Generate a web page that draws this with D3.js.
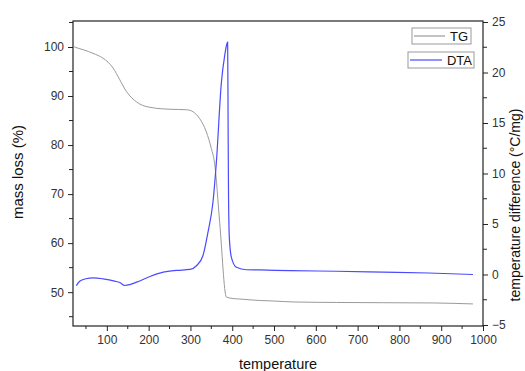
<!DOCTYPE html>
<html><head><meta charset="utf-8">
<script src="https://cdn.jsdelivr.net/npm/d3@7/dist/d3.min.js"></script>
<style>
body{margin:0;background:#fff;}
svg{display:block;font-family:"Liberation Sans",Arial,sans-serif;}
.tick text{fill:#333;font-size:12px;}
.domain,.tick line{stroke:#222;}
</style></head>
<body><svg id="c" width="525" height="371"></svg>
<script>
// TG curve: temperature (°C) vs mass loss (%)
const tgTemp = [20, 26, 45, 67, 91, 115, 131, 147, 160, 171, 185, 203, 230, 251, 291, 306, 322, 338, 350, 358, 370, 386, 402, 418, 466, 498, 546, 650, 760, 880, 976];
const tgMass = [100.1, 99.9, 99.4, 98.7, 97.7, 95.7, 93.3, 90.9, 89.6, 88.8, 88.1, 87.7, 87.4, 87.3, 87.2, 86.8, 85.4, 82.7, 79.3, 76.2, 64.2, 49.0, 48.7, 48.6, 48.3, 48.2, 48.0, 47.9, 47.85, 47.8, 47.6];
// DTA curve: temperature (°C) vs temperature difference (°C/mg)
const dtaTemp = [27, 35, 50, 67, 91, 119, 131, 143, 155, 171, 203, 235, 267, 299, 315, 330, 342, 354, 362, 374, 382, 387, 389, 390, 391, 393, 398, 410, 434, 466, 538, 650, 761, 870, 976];
const dtaVal  = [-1.1, -0.66, -0.42, -0.33, -0.43, -0.66, -0.8, -1.09, -1.0, -0.76, -0.2, 0.23, 0.4, 0.5, 0.89, 1.88, 4.2, 7.2, 11.1, 19.0, 21.7, 22.8, 23.0, 16.0, 8.5, 3.7, 1.7, 0.72, 0.47, 0.45, 0.38, 0.32, 0.23, 0.15, 0.0];
const xTicks = [100, 200, 300, 400, 500, 600, 700, 800, 900, 1000];
const leftTicks = [50, 60, 70, 80, 90, 100];
const rightTicks = [-5, 0, 5, 10, 15, 20, 25];
const seriesNames = ["TG", "DTA"];

const L = 73, R = 483, T = 21, B = 326;
const svg = d3.select("#c");
const x = d3.scaleLinear().domain([19, 1000]).range([L, R]);
const yL = d3.scaleLinear().domain([43.1, 105.3]).range([B, T]);
const yR = d3.scaleLinear().domain([-5.1, 25.1]).range([B, T]);

// frame
svg.append("rect").attr("x", L).attr("y", T).attr("width", R - L).attr("height", B - T)
  .attr("fill", "none").attr("stroke", "#222").attr("stroke-width", 1.2);

function minor(g, vals, fn) {
  g.selectAll("line.m").data(vals).enter().append("line").attr("stroke", "#222").each(fn);
}
const fmt = d3.format("d");
const gx = svg.append("g").attr("transform", `translate(0,${B})`)
  .call(d3.axisBottom(x).tickValues(xTicks).tickFormat(fmt).tickSize(5).tickPadding(4));
minor(gx, d3.range(50, 1000, 100), function(d){ d3.select(this).attr("x1", x(d)).attr("x2", x(d)).attr("y1", 0).attr("y2", 3); });
const gl = svg.append("g").attr("transform", `translate(${L},0)`)
  .call(d3.axisLeft(yL).tickValues(leftTicks).tickFormat(fmt).tickSize(5).tickPadding(4));
minor(gl, [45, 55, 65, 75, 85, 95, 105], function(d){ d3.select(this).attr("y1", yL(d)).attr("y2", yL(d)).attr("x1", 0).attr("x2", -4); });
const gr = svg.append("g").attr("transform", `translate(${R},0)`)
  .call(d3.axisRight(yR).tickValues(rightTicks).tickFormat(fmt).tickSize(5).tickPadding(4));
minor(gr, [-2.5, 2.5, 7.5, 12.5, 17.5, 22.5], function(d){ d3.select(this).attr("y1", yR(d)).attr("y2", yR(d)).attr("x1", 0).attr("x2", 4); });
svg.selectAll(".domain").remove();

// lines
const tgData = tgTemp.map((t, i) => [t, tgMass[i]]);
const dtaData = dtaTemp.map((t, i) => [t, dtaVal[i]]);
svg.append("path").datum(tgData)
  .attr("d", d3.line().x(d => x(d[0])).y(d => yL(d[1])).curve(d3.curveMonotoneX))
  .attr("fill", "none").attr("stroke", "#9a9a9a").attr("stroke-width", 1);
svg.append("path").datum(dtaData)
  .attr("d", d3.line().x(d => x(d[0])).y(d => yR(d[1])).curve(d3.curveMonotoneX))
  .attr("fill", "none").attr("stroke", "#4a4aff").attr("stroke-width", 1.2);

// legend
const leg = [
  {name: seriesNames[0], color: "#9a9a9a", bx: 412, by: 28, bw: 59, bh: 16, lx1: 414, lx2: 445, tx: 468},
  {name: seriesNames[1], color: "#4a4aff", bx: 408, by: 52, bw: 66, bh: 16, lx1: 410, lx2: 442, tx: 472}
];
leg.forEach(l => {
  svg.append("rect").attr("x", l.bx).attr("y", l.by).attr("width", l.bw).attr("height", l.bh)
    .attr("fill", "#fff").attr("stroke", "#999").attr("stroke-width", 1);
  svg.append("line").attr("x1", l.lx1).attr("x2", l.lx2).attr("y1", l.by + l.bh / 2).attr("y2", l.by + l.bh / 2)
    .attr("stroke", l.color).attr("stroke-width", 1.2);
  svg.append("text").attr("x", l.tx).attr("y", l.by + l.bh / 2 + 4.5).attr("text-anchor", "end")
    .attr("font-size", 13).attr("fill", "#111").text(l.name);
});

// axis titles
svg.append("text").attr("x", 278).attr("y", 369).attr("text-anchor", "middle")
  .attr("font-size", 14.5).attr("fill", "#111").text("temperature");
svg.append("text").attr("transform", "translate(23,172) rotate(-90)").attr("text-anchor", "middle")
  .attr("font-size", 15).attr("fill", "#111").text("mass loss (%)");
svg.append("text").attr("transform", "translate(520,205) rotate(-90)").attr("text-anchor", "middle")
  .attr("font-size", 14).attr("fill", "#111").text("temperature difference (°C/mg)");
</script></body></html>
